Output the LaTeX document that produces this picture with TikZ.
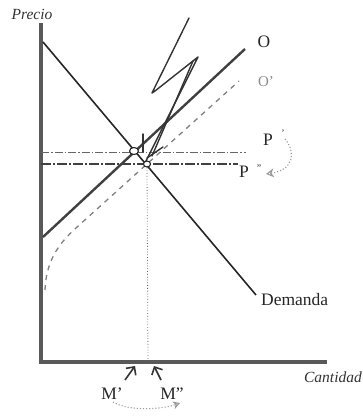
\documentclass[tikz,border=0pt]{standalone}
\usepackage{fontspec}
\setmainfont{Liberation Serif}
\usetikzlibrary{arrows.meta,shapes.geometric}
\begin{document}
\begin{tikzpicture}[x=1pt,y=-1pt,
  axisline/.style={line width=3.6pt,draw=black!65},
  curve/.style={line width=1.6pt,draw=black!85},
  supply/.style={line width=2.4pt,draw=black!75},
  supply2/.style={line width=1.3pt,draw=black!50,dash pattern=on 5pt off 5pt},
  pline/.style={line width=0.7pt,draw=black!60,dash pattern=on 8pt off 2pt on 1.5pt off 2pt},
  ppline/.style={line width=1.2pt,draw=black!75,dash pattern=on 10pt off 2pt on 2pt off 2pt},
  hand/.style={line width=1.4pt,draw=black!80,line join=round,line cap=round},
  shiftarrow/.style={line width=1.1pt,draw=black!40,dotted},
  marrow/.style={line width=1.6pt,draw=black!80,-{Straight Barb[length=6pt,width=12pt]}},
  lab/.style={font=\fontsize{17.5}{20}\selectfont,text=black!85,inner sep=0pt},
  ital/.style={font=\fontsize{15.5}{18}\selectfont\itshape,text=black!80,inner sep=0pt},
  eq/.style={ellipse,draw=black!85,line width=1.1pt,fill=white,inner sep=0pt}
]
\useasboundingbox (0,0) rectangle (363,417);
% axes
\coordinate (ytop) at (41,23);
\coordinate (orig) at (41,362);
\coordinate (xend) at (327,362);
\draw[axisline] (ytop) -- (orig) -- (xend);
\node[ital] (precio) at (32,14) {Precio};
\node[ital,anchor=east] (cantidad) at (362,377) {Cantidad};
% price lines
\coordinate (p1a) at (41,152); \coordinate (p1b) at (246,152);
\coordinate (p2a) at (41,164); \coordinate (p2b) at (238,164);
\draw[pline] (p1a) -- (p1b);
\draw[ppline] (p2a) -- (p2b);
% demand
\coordinate (da) at (43,42); \coordinate (db) at (256,295);
\draw[curve] (da) -- (db);
\node[lab,anchor=west] (dem) at (261,300) {Demanda};
% supply O
\coordinate (oa) at (43,237); \coordinate (ob) at (245,49);
\draw[supply] (oa) -- (ob);
\node[lab] (olab) at (264,42) {O};
% supply O'
\coordinate (opa) at (45,290); \coordinate (opm) at (76,228); \coordinate (opb) at (239,81);
\draw[supply2] (opa) .. controls (46,262) and (58,244) .. (opm) -- (opb);
\node[lab,text=black!45,font=\fontsize{15}{17}\selectfont] (oplab) at (266,82) {O'};
% hand-drawn squiggle
\coordinate (s1) at (189,18); \coordinate (s2) at (152,93);
\coordinate (s3) at (198,57); \coordinate (s4) at (145,163);
\draw[hand] (s1) -- (s2) -- (155,91) -- (s3) -- (s4);
\draw[hand] (193,61) -- (152,156);
\draw[hand] (143,134) -- (143,152);
\draw[hand] (147,158) -- (163,147);
% equilibria
\node[eq,minimum width=9pt,minimum height=7pt] (e1) at (134,151) {};
\node[eq,minimum width=7pt,minimum height=6pt] (e2) at (147,164) {};
\coordinate (m2) at (148,362);
\draw[line width=0.8pt,draw=black!60,dotted] (e2.south) -- (m2);
% P labels
\node[lab] (p1lab) at (268,140) {P};
\node[lab] at (283,133) {\fontsize{10}{10}\selectfont '};
\node[lab] (p2lab) at (244,172) {P};
\node[lab] at (259,168) {\fontsize{10}{10}\selectfont "};
\draw[shiftarrow,-{Stealth[length=8pt,width=9pt,open]}] (285,139) .. controls (296,152) and (294,170) .. (266,174);
% M labels
\node[lab] (mp) at (112,394) {M'};
\node[lab] (mpp) at (172,394) {M''};
\draw[marrow] (125,380) -- (135,366);
\draw[marrow] (161,380) -- (154,366);
\draw[shiftarrow,-{Stealth[length=7pt,width=8pt,open]}] (113,402) .. controls (128,411) and (160,410) .. (180,403);
\end{tikzpicture}
\end{document}
